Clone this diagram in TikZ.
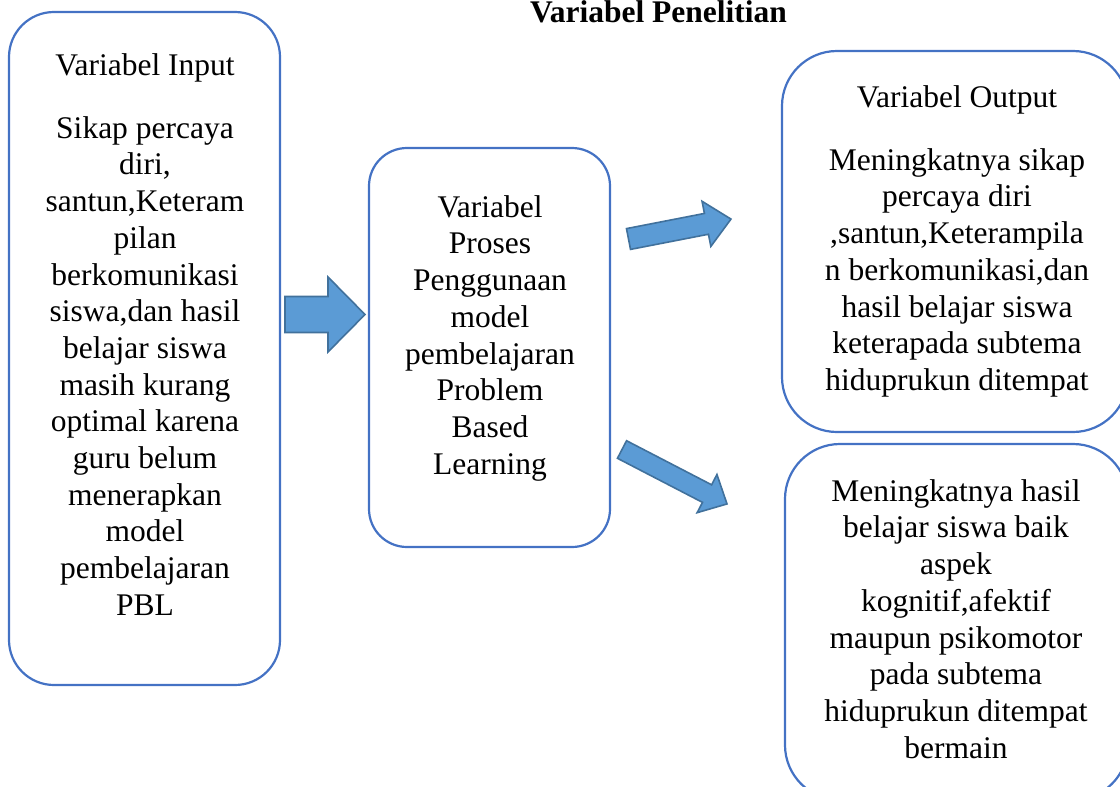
\documentclass[tikz,border=0pt]{standalone}
\usepackage{fontspec}
\setmainfont{Liberation Serif}
\definecolor{boxblue}{RGB}{68,114,196}
\definecolor{arrfill}{RGB}{91,155,213}
\definecolor{arrline}{RGB}{65,113,156}
\tikzset{
  varbox/.style={draw=boxblue, line width=2.2pt, fill=none, inner sep=0pt},
  vartext/.style={anchor=north, align=center, inner sep=0pt, font=\fontsize{31.5}{36.7}\selectfont},
  blockarr/.style={fill=arrfill, draw=arrline, line width=1.6pt, line join=miter},
}
\newcommand{\fs}{\rule{0pt}{25pt}}
\begin{document}
\begin{tikzpicture}[x=1pt,y=-1pt]
\useasboundingbox (0,0) rectangle (1120,787);

% title
\node[anchor=base, inner sep=0pt, font=\fontsize{31.5}{36.7}\selectfont\bfseries] (title) at (658.5,23) {Variabel Penelitian};

% boxes
\node[varbox, rounded corners=45pt, minimum width=271pt, minimum height=673pt] (input) at (144.5,348.5) {};
\node[varbox, rounded corners=38pt, minimum width=241pt, minimum height=399pt] (proses) at (489.5,347.5) {};
\node[varbox, rounded corners=55pt, minimum width=346pt, minimum height=381pt] (output) at (955,241.5) {};
\node[varbox, rounded corners=55pt, minimum width=343pt, minimum height=356pt] (hasil) at (956.5,622) {};

% texts
\node[vartext] (inputtext) at (145,50) {\fs Variabel Input\\[26.3pt]
Sikap percaya\\ diri,\\ santun,Keteram\\ pilan\\ berkomunikasi\\ siswa,dan hasil\\ belajar siswa\\ masih kurang\\ optimal karena\\ guru belum\\ menerapkan\\ model\\ pembelajaran\\ PBL};

\node[vartext] (prosestext) at (490,192) {\fs Variabel\\ Proses\\ Penggunaan\\ model\\ pembelajaran\\ Problem\\ Based\\ Learning};

\node[vartext] (outputtext) at (957,82) {\fs Variabel Output\\[26.3pt]
Meningkatnya sikap\\ percaya diri\\ ,santun,Keterampila\\ n berkomunikasi,dan\\ hasil belajar siswa\\ keterapada subtema\\ hiduprukun ditempat};

\node[vartext] (hasiltext) at (956,476) {\fs Meningkatnya hasil\\ belajar siswa baik\\ aspek\\ kognitif,afektif\\ maupun psikomotor\\ pada subtema\\ hiduprukun ditempat\\ bermain};

% block arrows
\begin{scope}[shift={(285,314.5)}]
  \draw[blockarr] (0,-18) -- (43,-18) -- (43,-37.5) -- (80,0) -- (43,37.5) -- (43,18) -- (0,18) -- cycle;
\end{scope}
\begin{scope}[shift={(628.5,239)}, rotate=11]
  \draw[blockarr] (0,-10.6) -- (79.4,-10.6) -- (79.4,-23) -- (104.4,0) -- (79.4,23) -- (79.4,10.6) -- (0,10.6) -- cycle;
\end{scope}
\begin{scope}[shift={(622,449.5)}, rotate=-27.4]
  \draw[blockarr] (0,-9.9) -- (95.8,-9.9) -- (95.8,-21.5) -- (118.3,0) -- (95.8,21.5) -- (95.8,9.9) -- (0,9.9) -- cycle;
\end{scope}
\end{tikzpicture}
\end{document}
